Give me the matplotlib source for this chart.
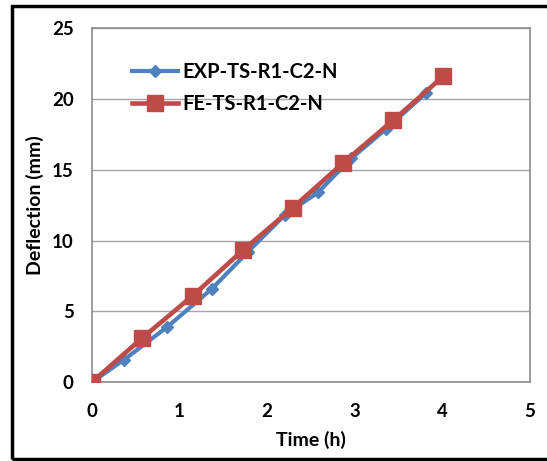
import matplotlib
matplotlib.use("Agg")
import matplotlib.pyplot as plt
from matplotlib.patches import Rectangle

# experimental series (blue diamonds)
exp_time = [0, 0.37, 0.86, 1.37, 1.78, 2.2, 2.58, 2.96, 3.36, 3.81]
exp_defl = [0, 1.6, 3.9, 6.6, 9.2, 11.8, 13.4, 15.8, 17.9, 20.4]

# finite element series (red squares)
fe_time = [0, 0.57, 1.15, 1.72, 2.29, 2.87, 3.44, 4.01]
fe_defl = [0, 3.1, 6.1, 9.3, 12.3, 15.5, 18.5, 21.6]

x_ticks = [0, 1, 2, 3, 4, 5]
y_ticks = [0, 5, 10, 15, 20, 25]

plt.rcParams["font.family"] = ["Lato", "DejaVu Sans"]
plt.rcParams["font.weight"] = "bold"

fig = plt.figure(figsize=(5.47, 4.61), dpi=100)
ax = fig.add_axes([0.168, 0.171, 0.801, 0.768])

ax.plot(exp_time, exp_defl, color="#4F81BD", lw=3, marker="D", ms=6.5,
        label="EXP-TS-R1-C2-N", zorder=3)
ax.plot(fe_time, fe_defl, color="#BE4B48", lw=3.3, marker="s", ms=12,
        label="FE-TS-R1-C2-N", zorder=4)

ax.set_xlim(0, 5)
ax.set_ylim(0, 25)
ax.set_xticks(x_ticks)
ax.set_yticks(y_ticks)
ax.tick_params(length=0, labelsize=13.5)
ax.tick_params(axis="x", pad=15)
ax.tick_params(axis="y", pad=13)
ax.grid(axis="y", color="#A6A6A6", lw=1)
ax.set_axisbelow(True)
for spine in ax.spines.values():
    spine.set_color("#8C8C8C")
    spine.set_linewidth(1.2)

ax.set_xlabel("Time (h)", fontsize=14, fontweight="bold", labelpad=8)
ax.set_ylabel("Deflection (mm)", fontsize=14, fontweight="bold", labelpad=6)

leg = ax.legend(loc="upper left", bbox_to_anchor=(0.05, 0.955), frameon=False,
                fontsize=14.5, handlelength=2.3, handletextpad=0.2,
                labelspacing=0.6)

# outer chart frame
fig.patches.append(Rectangle((0.022, 0.004), 1.0, 0.983, transform=fig.transFigure,
                             fill=False, edgecolor="black", lw=2.5))

fig.savefig("out.png", dpi=100)
